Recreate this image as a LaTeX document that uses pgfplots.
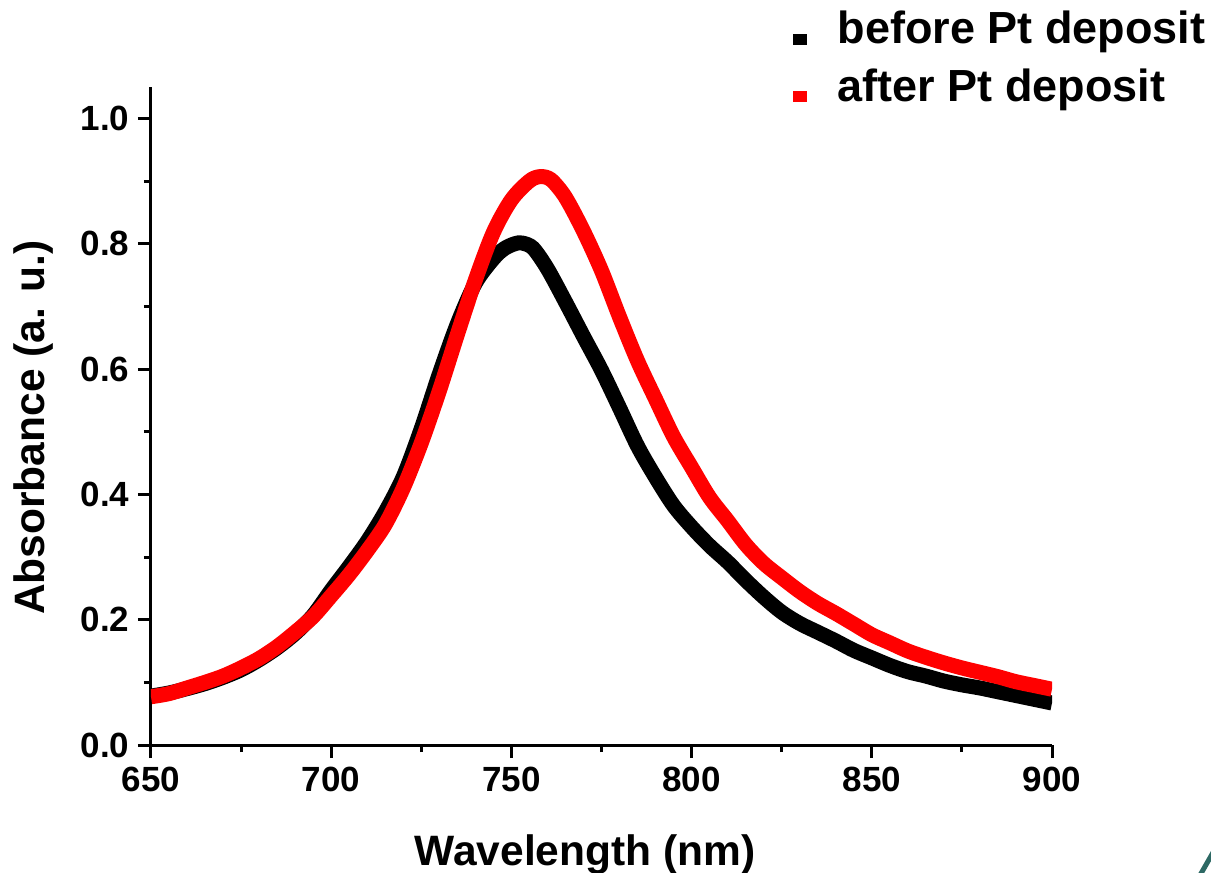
\documentclass[border=0pt]{standalone}
\usepackage{pgfplots}
\pgfplotsset{compat=1.18}
\usepackage{fontspec}
\setmainfont{Liberation Sans}
\definecolor{cornerteal}{RGB}{45,105,100}

\begin{document}
\begin{tikzpicture}
\begin{axis}[
  scale only axis,
  width=540.6pt, height=394.8pt,
  xmin=650, xmax=900, ymin=0, ymax=1.05,
  enlargelimits=false,
  axis lines=left,
  axis line style={-, line width=1.8pt},
  every tick/.style={black, line width=1.8pt},
  tick align=outside,
  major tick length=7.8pt,
  minor tick length=4.2pt,
  xtick={650,700,750,800,850,900},
  ytick={0,0.2,0.4,0.6,0.8,1.0},
  minor x tick num=1,
  minor y tick num=1,
  /pgf/number format/assume math mode=true,
  yticklabel style={/pgf/number format/fixed, /pgf/number format/fixed zerofill, /pgf/number format/precision=1, /tikz/inner sep=5pt},
  tick label style={font=\fontsize{21}{21}\selectfont\bfseries},
  xticklabel style={/tikz/inner sep=5pt},
  xlabel={Wavelength (nm)},
  ylabel={Absorbance (a. u.)},
  label style={font=\fontsize{25.5}{25.5}\selectfont\bfseries},
  xlabel style={at={(axis description cs:0.4817,0)}, anchor=base, yshift=-72pt},
  ylabel style={at={(axis description cs:0,0.4825)}, anchor=base, yshift=63.6pt},
  legend cell align=left,
  legend style={draw=none, fill=none, inner sep=0pt, outer sep=0pt,
    at={(axis description cs:0.712,1.1113)}, anchor=north west,
    font=\fontsize{27}{27}\selectfont\bfseries,
    row sep=11.4pt, column sep=0pt,
    /tikz/every odd column/.append style={column sep=18.6pt},
    nodes={inner sep=0pt, text height=18pt, text depth=5pt}},
  legend image code/.code={\fill[#1, draw=none] (6.9pt,-7.3pt) rectangle (15.3pt,-0.7pt);},
]
\addplot[black, line width=9pt, line cap=butt, line join=round, smooth, tension=0.5] coordinates {
(650,0.078) (655,0.083) (660,0.090) (665,0.098) (670,0.108) (675,0.120)
(680,0.136) (685,0.155) (690,0.178) (695,0.207) (700,0.247) (705,0.285)
(710,0.325) (715,0.372) (720,0.428) (725,0.505) (730,0.592) (735,0.672)
(740,0.737) (745,0.776) (748,0.792) (751,0.800) (753,0.801) (756,0.793)
(760,0.760) (765,0.707) (770,0.652) (775,0.598) (780,0.538) (785,0.477)
(790,0.427) (795,0.382) (800,0.348) (805,0.318) (810,0.292) (815,0.263)
(820,0.236) (825,0.212) (830,0.194) (835,0.180) (840,0.166) (845,0.151)
(850,0.139) (855,0.127) (860,0.117) (865,0.110) (870,0.102) (875,0.096)
(880,0.091) (885,0.085) (890,0.079) (895,0.073) (900,0.067)
};
\addlegendentry{before Pt deposit}
\addplot[red, line width=9pt, line cap=butt, line join=round, smooth, tension=0.5] coordinates {
(650,0.077) (655,0.082) (660,0.091) (665,0.100) (670,0.110) (675,0.123)
(680,0.138) (685,0.157) (690,0.180) (695,0.205) (700,0.238) (705,0.272)
(710,0.310) (715,0.352) (720,0.410) (725,0.482) (730,0.565) (735,0.655)
(740,0.742) (745,0.818) (750,0.870) (755,0.900) (758,0.907) (761,0.902)
(765,0.874) (770,0.820) (775,0.757) (780,0.683) (785,0.613) (790,0.552)
(795,0.492) (800,0.443) (805,0.395) (810,0.358) (815,0.320) (820,0.290)
(825,0.267) (830,0.245) (835,0.226) (840,0.210) (845,0.193) (850,0.176)
(855,0.163) (860,0.150) (865,0.140) (870,0.131) (875,0.123) (880,0.116)
(885,0.109) (890,0.101) (895,0.095) (900,0.089)
};
\addlegendentry{after Pt deposit}
\end{axis}
\pgfresetboundingbox
\path[use as bounding box] (current axis.south west) ++(-90.6pt,-76.2pt) rectangle ++(726.6pt,523.2pt);
\draw[cornerteal, line width=3pt] (current axis.south west) ++(629.5pt,-78pt) -- ++(8pt,14pt);
\end{tikzpicture}
\end{document}
